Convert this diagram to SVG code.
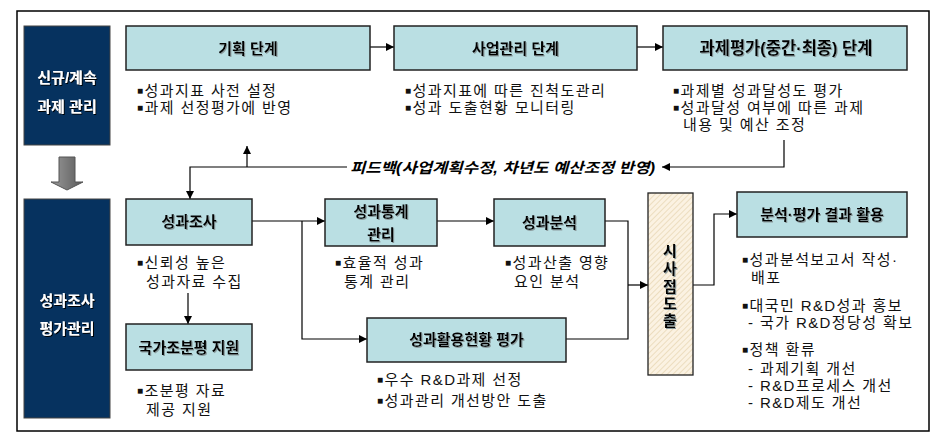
<svg xmlns="http://www.w3.org/2000/svg" width="942" height="439" viewBox="0 0 942 439">
<defs>
  <style>
    .frame{fill:#fff;stroke:#000;stroke-width:1.5}
    .navy{fill:#06325F;stroke:#444;stroke-width:1}
    .box{fill:#BADFE3;stroke:#222;stroke-width:1.5}
    .ttl{font-family:"Liberation Sans","Noto Sans CJK KR",sans-serif;font-weight:bold;font-size:15px;fill:#000;text-anchor:middle;filter:url(#sh)}
    .wt{font-family:"Liberation Sans","Noto Sans CJK KR",sans-serif;font-weight:bold;font-size:15px;fill:#fff;text-anchor:middle;filter:url(#sh2)}
    .bl{font-family:"Liberation Sans","Noto Sans CJK KR",sans-serif;font-size:15px;fill:#111;letter-spacing:1.4px}
    .sq{font-size:10px;baseline-shift:2px;letter-spacing:0}
    .fb{font-family:"Liberation Sans","Noto Sans CJK KR",sans-serif;font-weight:bold;font-style:italic;font-size:14.5px;fill:#000}
    .ln{fill:none;stroke:#000;stroke-width:1.2}
  </style>
  <filter id="sh" x="-5%" y="-20%" width="110%" height="140%">
    <feDropShadow dx="1" dy="1" stdDeviation="0.2" flood-color="#8a9a9c"/>
  </filter>
  <filter id="sh2" x="-5%" y="-20%" width="110%" height="140%">
    <feDropShadow dx="1" dy="1" stdDeviation="0.2" flood-color="#000"/>
  </filter>
  <marker id="ah" viewBox="0 0 10 10" refX="10" refY="5" markerWidth="9" markerHeight="8" markerUnits="userSpaceOnUse" orient="auto">
    <path d="M0,0 L10,5 L0,10 Z" fill="#000"/>
  </marker>
  <pattern id="hatch" width="4" height="4" patternUnits="userSpaceOnUse" patternTransform="rotate(45)">
    <rect width="4" height="4" fill="#FBF2E2"/>
    <line x1="0" y1="0" x2="0" y2="4" stroke="#E2CFA8" stroke-width="1.2"/>
  </pattern>
  <linearGradient id="ga" x1="0" y1="0" x2="1" y2="0">
    <stop offset="0" stop-color="#9a9a9a"/>
    <stop offset="1" stop-color="#5a5a5a"/>
  </linearGradient>
</defs>

<rect class="frame" x="17" y="11" width="912" height="420"/>

<g id="left-top">
  <rect class="navy" x="24" y="26" width="86" height="119"/>
  <text class="wt" x="67" y="83">신규/계속<tspan x="67" dy="29">과제 관리</tspan></text>
</g>
<g id="down-arrow">
  <polygon points="59,157 75,157 75,182 83,182 67,190 51,182 59,182" fill="url(#ga)" stroke="#555" stroke-width="1"/>
</g>
<g id="left-bottom">
  <rect class="navy" x="24" y="199" width="86" height="219"/>
  <text class="wt" x="67" y="306">성과조사<tspan x="67" dy="28">평가관리</tspan></text>
</g>

<g id="connectors">
  <line class="ln" x1="370" y1="47" x2="394" y2="47" marker-end="url(#ah)"/>
  <line class="ln" x1="637" y1="47" x2="663" y2="47" marker-end="url(#ah)"/>
  <polyline class="ln" points="784,140 784,167 662,167" marker-end="url(#ah)"/>
  <polyline class="ln" points="347,167 190,167 190,199" marker-end="url(#ah)"/>
  <line class="ln" x1="247" y1="167" x2="247" y2="146" marker-end="url(#ah)"/>
  <line class="ln" x1="252" y1="221" x2="325" y2="221" marker-end="url(#ah)"/>
  <polyline class="ln" points="302,221 302,339 367,339" marker-end="url(#ah)"/>
  <line class="ln" x1="437" y1="221" x2="494" y2="221" marker-end="url(#ah)"/>
  <polyline class="ln" points="605,221 628,221 628,339 566,339"/>
  <line class="ln" x1="628" y1="285" x2="648" y2="285" marker-end="url(#ah)"/>
  <polyline class="ln" points="693,285 714,285 714,214 737,214" marker-end="url(#ah)"/>
  <line class="ln" x1="188" y1="293" x2="188" y2="324" marker-end="url(#ah)"/>
  <text class="fb" x="350" y="173" textLength="305" lengthAdjust="spacingAndGlyphs">피드백(사업계획수정, 차년도 예산조정 반영)</text>
</g>

<g id="plan">
  <rect class="box" x="126" y="26" width="244" height="44"/>
  <text class="ttl" x="248" y="54">기획 단계</text>
  <text class="bl" x="137" y="96"><tspan class="sq">■</tspan><tspan dx="1.5">성과지표 사전 설정</tspan><tspan x="137" dy="17" class="sq">■</tspan><tspan dx="1.5">과제 선정평가에 반영</tspan></text>
</g>
<g id="manage">
  <rect class="box" x="394" y="26" width="243" height="44"/>
  <text class="ttl" x="515.5" y="54">사업관리 단계</text>
  <text class="bl" x="405" y="96"><tspan class="sq">■</tspan><tspan dx="1.5">성과지표에 따른 진척도관리</tspan><tspan x="405" dy="17" class="sq">■</tspan><tspan dx="1.5">성과 도출현황 모니터링</tspan></text>
</g>
<g id="evaluate">
  <rect class="box" x="663" y="26" width="244" height="44"/>
  <text class="ttl" x="786" y="54" style="font-size:16.5px">과제평가(중간·최종) 단계</text>
  <text class="bl" x="673" y="96"><tspan class="sq">■</tspan><tspan dx="1.5">과제별 성과달성도 평가</tspan><tspan x="673" dy="17" class="sq">■</tspan><tspan dx="1.5">성과달성 여부에 따른 과제</tspan><tspan x="683" dy="17">내용 및 예산 조정</tspan></text>
</g>
<g id="survey">
  <rect class="box" x="126" y="199" width="126" height="46"/>
  <text class="ttl" x="189" y="227">성과조사</text>
  <text class="bl" x="137" y="268"><tspan class="sq">■</tspan><tspan dx="1.5">신뢰성 높은</tspan><tspan x="146" dy="19">성과자료 수집</tspan></text>
</g>
<g id="stats">
  <rect class="box" x="325" y="199" width="112" height="47"/>
  <text class="ttl" x="381" y="217">성과통계<tspan x="381" dy="23">관리</tspan></text>
  <text class="bl" x="335" y="268"><tspan class="sq">■</tspan><tspan dx="1.5">효율적 성과</tspan><tspan x="344" dy="19">통계 관리</tspan></text>
</g>
<g id="analysis">
  <rect class="box" x="494" y="199" width="111" height="47"/>
  <text class="ttl" x="549.5" y="228">성과분석</text>
  <text class="bl" x="505" y="268"><tspan class="sq">■</tspan><tspan dx="1.5">성과산출 영향</tspan><tspan x="514" dy="19">요인 분석</tspan></text>
</g>
<g id="support">
  <rect class="box" x="126" y="324" width="126" height="46"/>
  <text class="ttl" x="189" y="353">국가조분평 지원</text>
  <text class="bl" x="137" y="396"><tspan class="sq">■</tspan><tspan dx="1.5">조분평 자료</tspan><tspan x="146" dy="19">제공 지원</tspan></text>
</g>
<g id="usage">
  <rect class="box" x="367" y="318" width="199" height="44"/>
  <text class="ttl" x="466.5" y="345">성과활용현황 평가</text>
  <text class="bl" x="377" y="385"><tspan class="sq">■</tspan><tspan dx="1.5">우수 R&amp;D과제 선정</tspan><tspan x="377" dy="21" class="sq">■</tspan><tspan dx="1.5">성과관리 개선방안 도출</tspan></text>
</g>
<g id="implication">
  <rect x="648" y="193" width="45" height="182" fill="url(#hatch)" stroke="#222" stroke-width="1.3"/>
  <text class="ttl" x="670" y="256">시<tspan x="670" dy="18">사</tspan><tspan x="670" dy="18">점</tspan><tspan x="670" dy="17">도</tspan><tspan x="670" dy="17">출</tspan></text>
</g>
<g id="result">
  <rect class="box" x="737" y="192" width="170" height="45"/>
  <text class="ttl" x="822" y="220">분석·평가 결과 활용</text>
  <text class="bl" x="742" y="265"><tspan class="sq">■</tspan><tspan dx="1.5">성과분석보고서 작성·</tspan><tspan x="751" dy="18">배포</tspan></text>
  <text class="bl" x="742" y="311"><tspan class="sq">■</tspan><tspan dx="1.5">대국민 R&amp;D성과 홍보</tspan><tspan x="748" dy="17">- 국가 R&amp;D정당성 확보</tspan></text>
  <text class="bl" x="742" y="355"><tspan class="sq">■</tspan><tspan dx="1.5">정책 환류</tspan><tspan x="748" dy="19">- 과제기획 개선</tspan><tspan x="748" dy="17">- R&amp;D프로세스 개선</tspan><tspan x="748" dy="17">- R&amp;D제도 개선</tspan></text>
</g>
</svg>
